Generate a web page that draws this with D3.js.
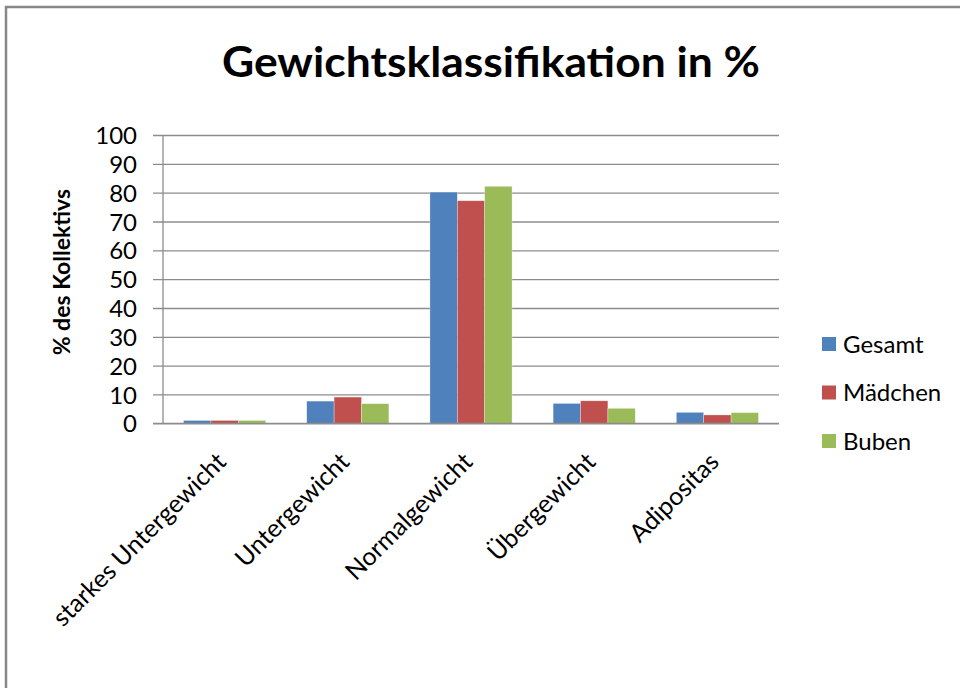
<!DOCTYPE html>
<html><head><meta charset="utf-8">
<script src="https://d3js.org/d3.v7.min.js"></script>
<style>html,body{margin:0;padding:0;background:#fff;}svg{display:block;}</style>
</head><body>
<svg id="c" width="960" height="688"></svg>
<script>
const categories = ["starkes Untergewicht", "Untergewicht", "Normalgewicht", "Übergewicht", "Adipositas"];
const seriesNames = ["Gesamt", "Mädchen", "Buben"];
const gesamt  = [1.0, 7.7, 80.2, 6.9, 3.8];
const maedchen = [1.0, 9.1, 77.2, 7.8, 2.9];
const buben   = [1.0, 6.8, 82.2, 5.2, 3.7];
const yTicks = [0, 10, 20, 30, 40, 50, 60, 70, 80, 90, 100];
const colors = ["#4F81BD", "#C0504D", "#9BBB59"];
const title = "Gewichtsklassifikation in %";
const yTitle = "% des Kollektivs";

const series = [gesamt, maedchen, buben];
const font = "Lato, 'Open Sans', sans-serif";
const svg = d3.select("#c");

// border
svg.append("path").attr("d", "M6,688 V7 H960").attr("fill", "none")
  .attr("stroke", "#878787").attr("stroke-width", 2.5);

const L = 163, R = 779, T = 135, B = 423.3;
const x = d3.scaleBand().domain(categories).range([L, R]).paddingInner(0).paddingOuter(0);
const xs = d3.scaleBand().domain(seriesNames).range([0, x.bandwidth()]).paddingInner(0).paddingOuter(0.75);
const y = d3.scaleLinear().domain([0, 100]).range([B, T]);

// gridlines & ticks
const yAxis = d3.axisLeft(y).tickValues(yTicks).tickSize(-(R - L)).tickPadding(0).tickFormat("");
const gy = svg.append("g").attr("transform", `translate(${L},0)`).call(yAxis);
gy.select(".domain").remove();
gy.selectAll(".tick line").attr("stroke", "#8c8c8c").attr("stroke-width", 1.3).attr("x1", -10);
gy.selectAll(".tick").append("text").attr("x", -26).attr("dy", "0.36em")
  .attr("text-anchor", "end").attr("fill", "#000")
  .style("font-family", font).style("font-size", "24px").text(d => d);

// y axis line
svg.append("line").attr("x1", L).attr("x2", L).attr("y1", T).attr("y2", B)
  .attr("stroke", "#8c8c8c").attr("stroke-width", 1.3);

// bars
const groups = svg.append("g").selectAll("g").data(categories).join("g")
  .attr("transform", d => `translate(${x(d)},0)`);
groups.selectAll("rect").data((c, i) => seriesNames.map((s, j) => ({s, v: series[j][i], j})))
  .join("rect")
  .attr("x", d => xs(d.s)).attr("width", xs.bandwidth())
  .attr("y", d => y(d.v)).attr("height", d => y(0) - y(d.v))
  .attr("fill", d => colors[d.j]).attr("stroke", "rgba(255,255,255,0.5)").attr("stroke-width", 0.6);

// x axis line
svg.append("line").attr("x1", L - 10).attr("x2", R).attr("y1", B).attr("y2", B)
  .attr("stroke", "#8c8c8c").attr("stroke-width", 1.3);

// x labels
svg.append("g").selectAll("text").data(categories).join("text")
  .attr("transform", d => `translate(${x(d) + x.bandwidth() / 2 + 3},${B + 40}) rotate(-45)`)
  .attr("text-anchor", "end").attr("fill", "#000")
  .style("font-family", font).style("font-size", "25px").text(d => d);

// title
svg.append("text").attr("x", 222).attr("y", 77)
  .attr("textLength", 538).attr("lengthAdjust", "spacingAndGlyphs")
  .style("font-family", font).style("font-weight", "bold").style("font-size", "42px")
  .attr("fill", "#000").text(title);

// y title
svg.append("text").attr("transform", `translate(70,${(T + B) / 2 - 7}) rotate(-90)`)
  .attr("text-anchor", "middle").style("font-family", font).style("font-weight", "bold")
  .style("font-size", "23px").attr("fill", "#000").text(yTitle);

// legend
const lg = svg.append("g").selectAll("g").data(seriesNames).join("g")
  .attr("transform", (d, i) => `translate(822,${344 + i * 48.5})`);
lg.append("rect").attr("x", 0).attr("y", -7).attr("width", 14).attr("height", 14)
  .attr("fill", (d, i) => colors[i]);
lg.append("text").attr("x", 21).attr("dy", "0.36em").attr("fill", "#000")
  .style("font-family", font).style("font-size", "24px").text(d => d);
</script>
</body></html>
